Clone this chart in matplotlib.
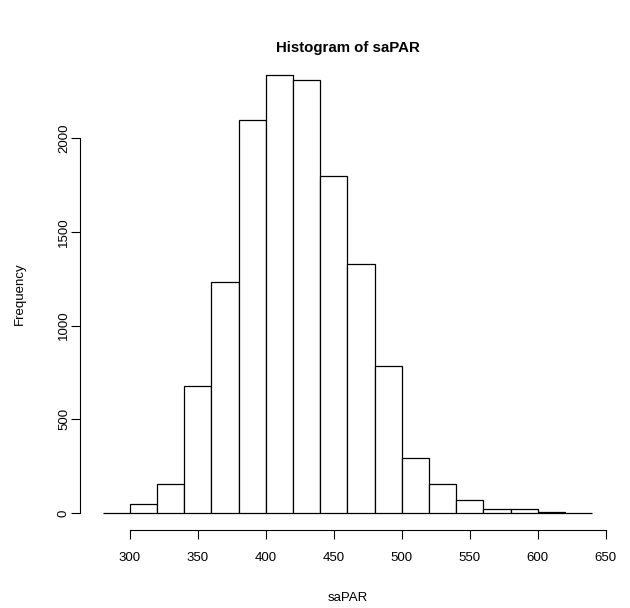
import numpy as np
import matplotlib.pyplot as plt

plt.rcParams['font.family'] = ['Liberation Sans', 'DejaVu Sans']

# histogram bins and counts
bin_edges = np.arange(280, 641, 20)
counts = [2, 50, 155, 680, 1235, 2100, 2340, 2310, 1800, 1328, 784, 293, 152, 69, 21, 20, 6, 2]

fig = plt.figure(figsize=(6.3, 6.08), dpi=100)
ax = fig.add_axes([0.132, 0.1275, 0.839, 0.7785])

ax.bar(bin_edges[:-1], counts, width=20, align='edge', color='white',
       edgecolor='black', linewidth=0.9)

# R-style 4% padding
xr = bin_edges[-1] - bin_edges[0]
ax.set_xlim(bin_edges[0] - 0.04 * xr, bin_edges[-1] + 0.04 * xr)
ymax = max(counts)
ax.set_ylim(-0.04 * ymax, ymax * 1.04)

for s in ['top', 'right']:
    ax.spines[s].set_visible(False)
ax.spines['bottom'].set_bounds(300, 650)
ax.spines['left'].set_bounds(0, 2000)
ax.spines['left'].set_position(('outward', 2))

ax.set_xticks([300, 350, 400, 450, 500, 550, 600, 650])
ax.set_yticks([0, 500, 1000, 1500, 2000])
ax.set_yticklabels(['0', '500', '1000', '1500', '2000'], rotation=90, va='center')
ax.tick_params(direction='out', length=6.5, width=0.8, labelsize=9.5)
ax.tick_params(axis='x', pad=9)
ax.tick_params(axis='y', pad=1)

ax.set_title('Histogram of saPAR', fontsize=10.8, fontweight='bold', pad=4)
ax.set_xlabel('saPAR', fontsize=9.5, labelpad=20)
ax.set_ylabel('Frequency', fontsize=9.5, labelpad=23)

plt.savefig('out.png')
